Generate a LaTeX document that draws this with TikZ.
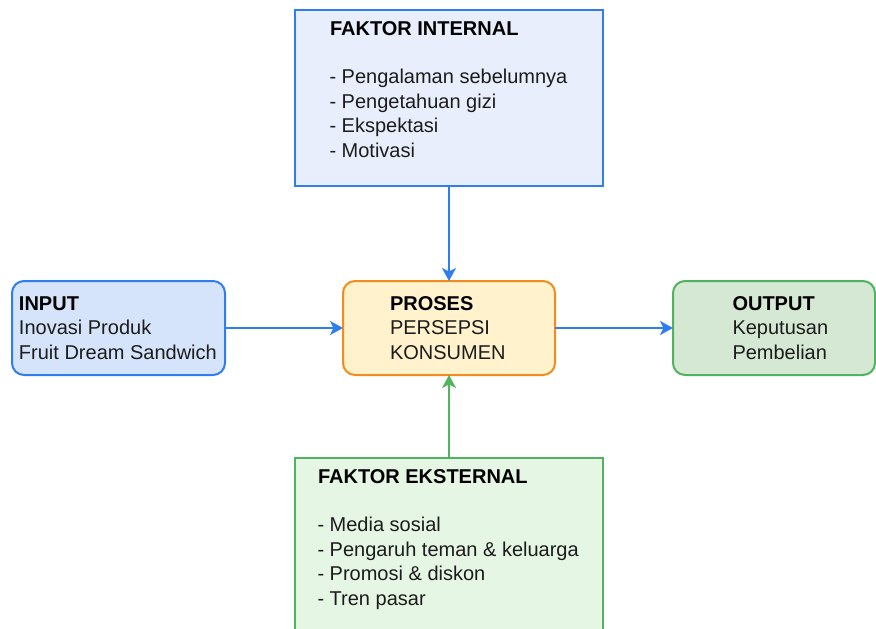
\documentclass[tikz,border=0pt]{standalone}
\usepackage{fontspec}
\setmainfont{Liberation Sans}
\usetikzlibrary{arrows.meta}
\definecolor{bluestroke}{HTML}{2F7DEF}
\definecolor{orangestroke}{HTML}{F28C1E}
\definecolor{greenstroke}{HTML}{52B35E}
\definecolor{topfill}{HTML}{E8EEFB}
\definecolor{inputfill}{HTML}{D6E4FB}
\definecolor{prosesfill}{HTML}{FFF2CC}
\definecolor{outputfill}{HTML}{D5E8D4}
\definecolor{botfill}{HTML}{E6F6E4}
\definecolor{textc}{HTML}{1C1C1C}
\begin{document}
\begin{tikzpicture}[x=1pt,y=-1pt,
  box/.style={draw, line width=2pt, inner sep=0pt, outer sep=0pt},
  rbox/.style={box, rounded corners=12pt},
  lbl/.style={anchor=base west, inner sep=0pt, outer sep=0pt, text=textc,
    font=\fontsize{20}{24.5}\selectfont},
  ttl/.style={lbl, font=\fontsize{20}{24.5}\selectfont\bfseries, text=black},
  conn/.style={line width=2pt, -{Stealth[length=13pt,width=14pt,inset=3.5pt]}}
]
\useasboundingbox (0,0) rectangle (876,629);
\clip (0,0) rectangle (876,629);

% boxes
\node[box, draw=bluestroke, fill=topfill, minimum width=308pt, minimum height=176pt] (internal) at (449,97.5) {};
\node[rbox, draw=bluestroke, fill=inputfill, minimum width=213pt, minimum height=94pt] (input) at (118.5,328) {};
\node[rbox, draw=orangestroke, fill=prosesfill, minimum width=212pt, minimum height=94pt] (proses) at (449,328) {};
\node[rbox, draw=greenstroke, fill=outputfill, minimum width=202pt, minimum height=94pt] (output) at (774,328) {};
\node[box, draw=greenstroke, fill=botfill, minimum width=308pt, minimum height=200pt] (eksternal) at (449,558) {};

% texts: internal
\node[ttl] (t1) at (330,35) {FAKTOR INTERNAL};
\node[lbl] (t2) at (329.5,83.5) {- Pengalaman sebelumnya};
\node[lbl] (t3) at (329.5,108) {- Pengetahuan gizi};
\node[lbl] (t4) at (329.5,132.5) {- Ekspektasi};
\node[lbl] (t5) at (329.5,157) {- Motivasi};

% input
\node[ttl] (i1) at (19,310) {INPUT};
\node[lbl] (i2) at (19,334.5) {Inovasi Produk};
\node[lbl] (i3) at (19,359) {Fruit Dream Sandwich};

% proses
\node[ttl] (p1) at (390,310) {PROSES};
\node[lbl] (p2) at (390,334.5) {PERSEPSI};
\node[lbl] (p3) at (390,359) {KONSUMEN};

% output
\node[ttl] (o1) at (732.5,310) {OUTPUT};
\node[lbl] (o2) at (732.5,334.5) {Keputusan};
\node[lbl] (o3) at (732.5,359) {Pembelian};

% eksternal
\node[ttl] (e1) at (318,483.5) {FAKTOR EKSTERNAL};
\node[lbl] (e2) at (317.5,531.5) {- Media sosial};
\node[lbl] (e3) at (317.5,556) {- Pengaruh teman \& keluarga};
\node[lbl] (e4) at (317.5,580.5) {- Promosi \& diskon};
\node[lbl] (e5) at (317.5,605) {- Tren pasar};

% connectors
\draw[conn, bluestroke] (internal.south) -- (proses.north);
\draw[conn, bluestroke] (input.east) -- (proses.west);
\draw[conn, bluestroke] (proses.east) -- (output.west);
\draw[conn, greenstroke] (eksternal.north) -- (proses.south);
\end{tikzpicture}
\end{document}
